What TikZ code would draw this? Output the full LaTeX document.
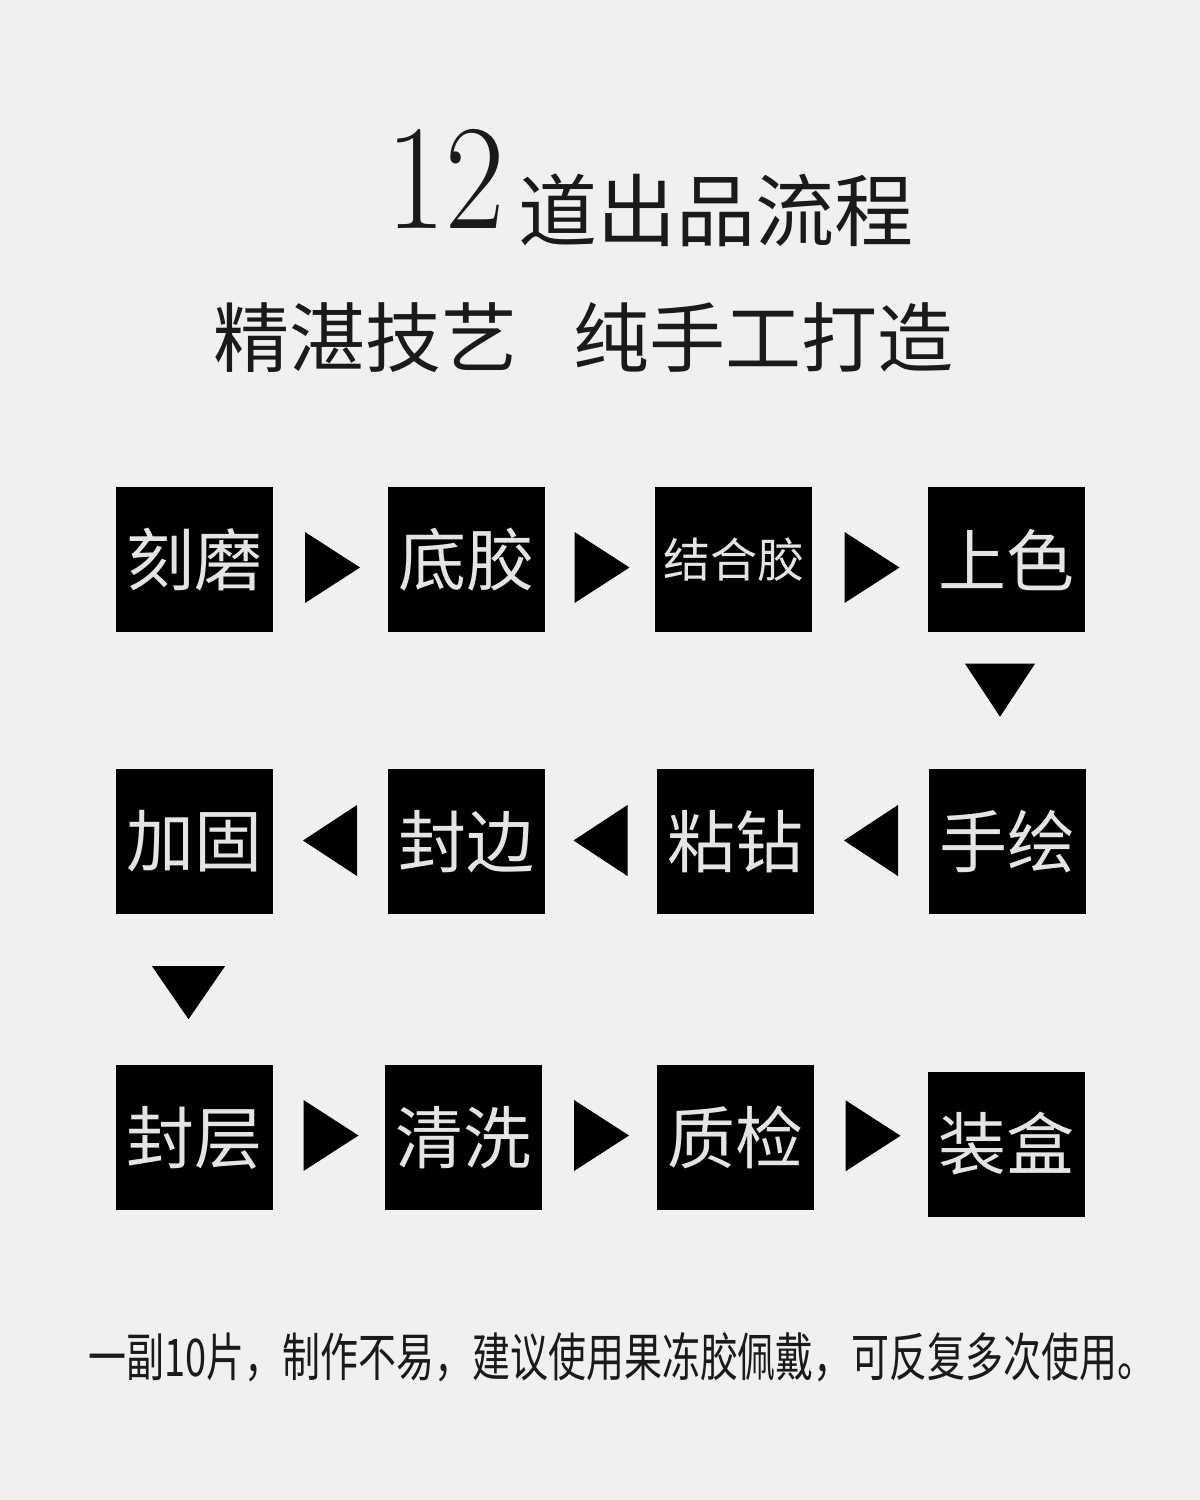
\documentclass[tikz,border=0pt]{standalone}
\usepackage{fontspec}
\newfontfamily\cjk{Noto Sans CJK SC}
\usetikzlibrary{calc}
\definecolor{bg}{HTML}{F0F0F0}
\definecolor{boxtxt}{HTML}{E4E4E4}
\definecolor{ink}{HTML}{1A1A1A}
\tikzset{
  stepbox/.style={fill=black, draw=none, minimum width=157pt, minimum height=145pt, inner sep=0pt,
    text=boxtxt, font=\cjk\fontsize{68}{68}\selectfont},
  smallbox/.style={stepbox, font=\cjk\fontsize{47}{47}\selectfont},
  tri/.style={fill=black, draw=none}
}
\begin{document}
\begin{tikzpicture}[x=1pt, y=-1pt]
\fill[bg] (0,0) rectangle (1200,1500);
\useasboundingbox (0,0) rectangle (1200,1500);

% titles
\node[anchor=base west, inner sep=0pt, text=ink] (num) at (386,228)
  {\scalebox{0.86}[1]{\fontsize{150}{150}\selectfont 12}};
\node[anchor=base west, inner sep=0pt, text=ink, font=\cjk\fontsize{79}{79}\selectfont] (t1) at (518,240) {道出品流程};
\node[anchor=base west, inner sep=0pt, text=ink, font=\cjk\fontsize{76}{76}\selectfont] (t2) at (213,366)
  {精湛技艺\hspace{56pt}纯手工打造};

% boxes
\node[stepbox] (b1) at (194.5,559.5) {刻磨};
\node[stepbox] (b2) at (466.5,559.5) {底胶};
\node[smallbox] (b3) at (733.5,559.5) {结合胶};
\node[stepbox] (b4) at (1006.5,559.5) {上色};
\node[stepbox] (b5) at (1007.5,841.5) {手绘};
\node[stepbox] (b6) at (735.5,841.5) {粘钻};
\node[stepbox] (b7) at (466.5,841.5) {封边};
\node[stepbox] (b8) at (194.5,841.5) {加固};
\node[stepbox] (b9) at (194.5,1137.5) {封层};
\node[stepbox] (b10) at (463.5,1137.5) {清洗};
\node[stepbox] (b11) at (735.5,1137.5) {质检};
\node[stepbox] (b12) at (1006.5,1144) {装盒};

% right-pointing triangles
\foreach \a/\b/\dy in {b1/b2/8, b2/b3/8, b3/b4/8, b9/b10/-2, b10/b11/-2, b11/b12/-5}{
  \coordinate (m) at ($(\a.east)!0.5!(\b.west)+(2,\dy)$);
  \fill[tri, shift={(m)}] (-27.5,-35.5) -- (27.5,0) -- (-27.5,35.5) -- cycle;
}
% left-pointing triangles
\foreach \a/\b in {b5/b6, b6/b7, b7/b8}{
  \coordinate (m) at ($(\a.west)!0.5!(\b.east)+(-0.5,-1)$);
  \fill[tri, shift={(m)}] (27,-35.5) -- (-27,0) -- (27,35.5) -- cycle;
}
% down-pointing triangles
\coordinate (d1) at ($(b4.south)+(-6.5,58)$);
\fill[tri, shift={(d1)}] (-35,-26.5) -- (35,-26.5) -- (0,26.5) -- cycle;
\coordinate (d2) at ($(b8.south)+(-6,78.5)$);
\fill[tri, shift={(d2)}] (-36.5,-26.5) -- (36.5,-26.5) -- (0,26.5) -- cycle;

% footer
\node[anchor=base, inner sep=0pt, text=ink] (foot) at (622,1376)
  {\scalebox{0.73}[1]{\cjk\fontsize{52}{52}\selectfont 一副10片，制作不易，建议使用果冻胶佩戴，可反复多次使用。}};
\end{tikzpicture}
\end{document}
